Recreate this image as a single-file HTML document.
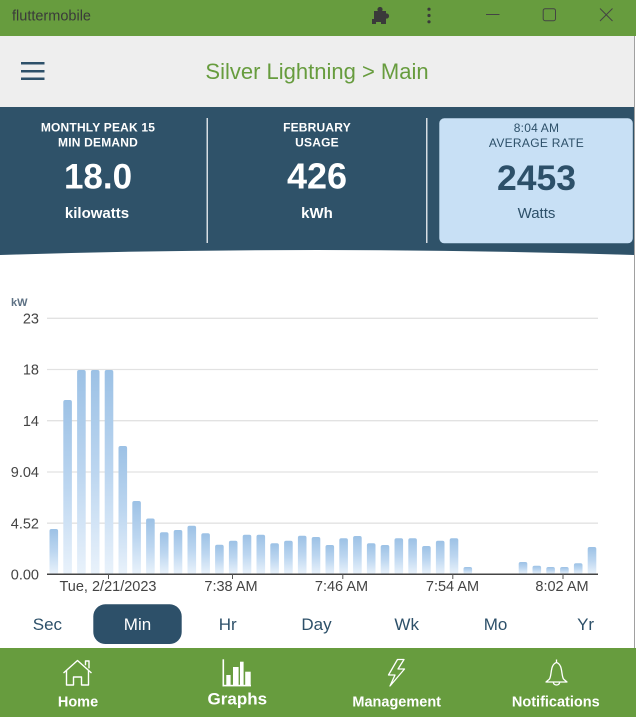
<!DOCTYPE html>
<html>
<head>
<meta charset="utf-8">
<style>
  html, body { margin:0; padding:0; background:#ffffff; }
  body { width:636px; height:717px; overflow:hidden; }
  svg { display:block; }
  text { font-family: "Liberation Sans", "DejaVu Sans", sans-serif; }
</style>
</head>
<body>
<svg width="636" height="717" viewBox="0 0 636 717" xmlns="http://www.w3.org/2000/svg">
  <defs>
    <linearGradient id="bar" x1="0" y1="0" x2="0" y2="1">
      <stop offset="0" stop-color="#9cc1e5"/>
      <stop offset="0.5" stop-color="#bcd6f0"/>
      <stop offset="1" stop-color="#e9f2fb"/>
    </linearGradient>
  </defs>

  <!-- page background -->
  <rect x="0" y="0" width="636" height="717" fill="#ffffff"/>

  <!-- Window title bar -->
  <rect x="0" y="0" width="636" height="36" fill="#679c3e"/>
  <text x="12" y="20.5" font-size="14.5" fill="#3a3a3a">fluttermobile</text>
  <!-- puzzle icon -->
  <g fill="#3a3a3a">
    <rect x="374" y="11" width="12" height="11"/>
    <circle cx="380" cy="9.5" r="2.6"/>
    <circle cx="386.5" cy="16" r="2.6"/>
    <rect x="372" y="19" width="4" height="5"/>
    <rect x="381" y="20" width="5" height="4"/>
  </g>
  <!-- dots -->
  <g fill="#3a3a3a">
    <circle cx="429" cy="9.2" r="1.6"/>
    <circle cx="429" cy="15.5" r="1.6"/>
    <circle cx="429" cy="21.8" r="1.6"/>
  </g>
  <line x1="486" y1="14.5" x2="499.5" y2="14.5" stroke="#444" stroke-width="1"/>
  <rect x="543.2" y="8.7" width="12.3" height="12" rx="2" fill="none" stroke="#444" stroke-width="1"/>
  <line x1="600" y1="8.5" x2="612.5" y2="21" stroke="#444" stroke-width="1"/>
  <line x1="612.5" y1="8.5" x2="600" y2="21" stroke="#444" stroke-width="1"/>

  <!-- App bar -->
  <rect x="0" y="36" width="636" height="71" fill="#eeeeee"/>
  <g fill="#2d5069">
    <rect x="21" y="62" width="23.5" height="2.5"/>
    <rect x="21" y="70" width="23.5" height="2.5"/>
    <rect x="21" y="77.5" width="23.5" height="2.5"/>
  </g>
  <text x="317" y="79" font-size="22" fill="#679c3e" text-anchor="middle">Silver Lightning &gt; Main</text>

  <!-- Dark header with curved bottom -->
  <path d="M0,107 H634 V255 Q317,245 0,255 Z" fill="#2f5269"/>
  <!-- dividers -->
  <rect x="206.5" y="118" width="1.5" height="125" fill="#d6dde3"/>
  <rect x="426" y="118" width="1.5" height="125" fill="#d6dde3"/>
  <!-- highlighted card -->
  <rect x="439.3" y="118.3" width="193.5" height="125" rx="5" fill="#c8e0f5"/>

  <!-- card 1 -->
  <g fill="#ffffff" text-anchor="middle" font-weight="bold">
    <text x="98" y="131.7" font-size="12" letter-spacing="0.2">MONTHLY PEAK 15</text>
    <text x="98" y="146.7" font-size="12" letter-spacing="0.2">MIN DEMAND</text>
    <text x="98" y="188.3" font-size="35">18.0</text>
    <text x="97" y="218" font-size="15">kilowatts</text>
  </g>
  <!-- card 2 -->
  <g fill="#ffffff" text-anchor="middle" font-weight="bold">
    <text x="317" y="131.7" font-size="12" letter-spacing="0.2">FEBRUARY</text>
    <text x="317" y="146.7" font-size="12" letter-spacing="0.2">USAGE</text>
    <text x="317" y="188.3" font-size="36">426</text>
    <text x="317" y="218" font-size="15">kWh</text>
  </g>
  <!-- card 3 -->
  <g fill="#2d5069" text-anchor="middle">
    <text x="536.5" y="132" font-size="12" letter-spacing="0.2">8:04 AM</text>
    <text x="536.5" y="147" font-size="12" letter-spacing="0.3">AVERAGE RATE</text>
    <text x="536.5" y="190" font-size="35.5" font-weight="bold">2453</text>
    <text x="536.5" y="218" font-size="15">Watts</text>
  </g>

  <!-- window right border -->
  <rect x="634" y="36" width="2" height="612" fill="#ffffff"/>
  <rect x="634" y="36" width="1" height="612" fill="#a0a0a0"/>

  <!-- Chart -->
  <text x="11" y="306" font-size="11" font-weight="bold" fill="#5d7184">kW</text>
  <g stroke="#e2e2e2" stroke-width="1.3">
    <line x1="47" y1="318.3" x2="598" y2="318.3"/>
    <line x1="47" y1="369.5" x2="598" y2="369.5"/>
    <line x1="47" y1="420.7" x2="598" y2="420.7"/>
    <line x1="47" y1="472" x2="598" y2="472"/>
    <line x1="47" y1="523.2" x2="598" y2="523.2"/>
  </g>
  <g font-size="14.5" fill="#444" text-anchor="end">
    <text x="39" y="323.5">23</text>
    <text x="39" y="374.7">18</text>
    <text x="39" y="425.9">14</text>
    <text x="39" y="477.2">9.04</text>
    <text x="39" y="528.4">4.52</text>
    <text x="39" y="579.5">0.00</text>
  </g>

  <!-- bars -->
  <g fill="url(#bar)">
    <rect x="49.5" y="529" width="8.6" height="45" rx="2"/>
    <rect x="63.3" y="400" width="8.6" height="174" rx="2"/>
    <rect x="77.1" y="370" width="8.6" height="204" rx="2"/>
    <rect x="90.9" y="370" width="8.6" height="204" rx="2"/>
    <rect x="104.7" y="370" width="8.6" height="204" rx="2"/>
    <rect x="118.5" y="446" width="8.6" height="128" rx="2"/>
    <rect x="132.3" y="501" width="8.6" height="73" rx="2"/>
    <rect x="146.1" y="518.5" width="8.6" height="55.5" rx="2"/>
    <rect x="159.9" y="532.3" width="8.6" height="41.7" rx="2"/>
    <rect x="173.7" y="530" width="8.6" height="44" rx="2"/>
    <rect x="187.5" y="525.7" width="8.6" height="48.3" rx="2"/>
    <rect x="201.3" y="533.3" width="8.6" height="40.7" rx="2"/>
    <rect x="215.1" y="544.7" width="8.6" height="29.3" rx="2"/>
    <rect x="228.9" y="540.7" width="8.6" height="33.3" rx="2"/>
    <rect x="242.7" y="534.7" width="8.6" height="39.3" rx="2"/>
    <rect x="256.5" y="534.7" width="8.6" height="39.3" rx="2"/>
    <rect x="270.3" y="543.3" width="8.6" height="30.7" rx="2"/>
    <rect x="284.1" y="540.7" width="8.6" height="33.3" rx="2"/>
    <rect x="297.9" y="535.7" width="8.6" height="38.3" rx="2"/>
    <rect x="311.7" y="537" width="8.6" height="37" rx="2"/>
    <rect x="325.5" y="545" width="8.6" height="29" rx="2"/>
    <rect x="339.3" y="538.3" width="8.6" height="35.7" rx="2"/>
    <rect x="353.1" y="536" width="8.6" height="38" rx="2"/>
    <rect x="366.9" y="543.3" width="8.6" height="30.7" rx="2"/>
    <rect x="380.7" y="545" width="8.6" height="29" rx="2"/>
    <rect x="394.5" y="538.3" width="8.6" height="35.7" rx="2"/>
    <rect x="408.3" y="538.3" width="8.6" height="35.7" rx="2"/>
    <rect x="422.1" y="546" width="8.6" height="28" rx="2"/>
    <rect x="435.9" y="540.7" width="8.6" height="33.3" rx="2"/>
    <rect x="449.7" y="538.3" width="8.6" height="35.7" rx="2"/>
    <rect x="463.5" y="567" width="8.6" height="7" rx="2"/>
    <rect x="518.7" y="562" width="8.6" height="12" rx="2"/>
    <rect x="532.5" y="565.7" width="8.6" height="8.3" rx="2"/>
    <rect x="546.3" y="567" width="8.6" height="7" rx="2"/>
    <rect x="560.1" y="567" width="8.6" height="7" rx="2"/>
    <rect x="573.9" y="563.3" width="8.6" height="10.7" rx="2"/>
    <rect x="587.7" y="547" width="8.6" height="27" rx="2"/>
  </g>

  <!-- x axis -->
  <line x1="47" y1="574.3" x2="598" y2="574.3" stroke="#444" stroke-width="1.5"/>
  <g stroke="#555" stroke-width="1">
    <line x1="108.5" y1="574" x2="108.5" y2="579"/>
    <line x1="232.5" y1="574" x2="232.5" y2="579"/>
    <line x1="342.8" y1="574" x2="342.8" y2="579"/>
    <line x1="452.8" y1="574" x2="452.8" y2="579"/>
    <line x1="563" y1="574" x2="563" y2="579"/>
  </g>
  <g font-size="14.5" fill="#444" text-anchor="middle">
    <text x="108" y="591">Tue, 2/21/2023</text>
    <text x="231" y="591">7:38 AM</text>
    <text x="341.5" y="591">7:46 AM</text>
    <text x="452.5" y="591">7:54 AM</text>
    <text x="562" y="591">8:02 AM</text>
  </g>

  <!-- Period selector -->
  <rect x="93.3" y="604.3" width="88.4" height="39.7" rx="12" fill="#2d5069"/>
  <g font-size="17" fill="#2d5069" text-anchor="middle">
    <text x="47.4" y="630">Sec</text>
    <text x="137.5" y="630" fill="#ffffff">Min</text>
    <text x="227.7" y="630">Hr</text>
    <text x="316.5" y="630">Day</text>
    <text x="406.7" y="630">Wk</text>
    <text x="495.5" y="630">Mo</text>
    <text x="585.6" y="630">Yr</text>
  </g>

  <!-- Bottom nav -->
  <rect x="0" y="648" width="636" height="69" fill="#679c3e"/>
  <!-- home icon -->
  <g fill="none" stroke="#ffffff" stroke-width="1.4" stroke-linejoin="round">
    <path d="M63.5,673 L77.5,660.5 L91.5,673"/>
    <path d="M85.5,665.3 V661 H89 V668.4"/>
    <path d="M66.5,670.5 V685 H73.5 V677 H81.5 V685 H88.5 V670.5"/>
  </g>
  <!-- graphs icon -->
  <g fill="#ffffff">
    <rect x="222.5" y="659.3" width="1.6" height="27"/>
    <rect x="222.5" y="684.8" width="28.5" height="1.6"/>
    <rect x="226.3" y="675" width="4.3" height="10"/>
    <rect x="233" y="667" width="5.6" height="18"/>
    <rect x="240" y="661.7" width="3.6" height="23.3"/>
    <rect x="245.2" y="671.7" width="5.5" height="13.3"/>
  </g>
  <!-- lightning icon -->
  <path d="M397.5,659.5 L388.5,675 L395,675 L390,686 L404.5,669 L398,669 L404,659.5 Z" fill="none" stroke="#ffffff" stroke-width="1.3" stroke-linejoin="round"/>
  <!-- bell icon -->
  <g fill="none" stroke="#ffffff" stroke-width="1.3" stroke-linejoin="round">
    <path d="M556.5,659.5 V662.5"/>
    <path d="M549.5,679 C552,675 550,664.5 556.5,662.5 C563,664.5 561,675 563.5,679 L567,682 H546 Z"/>
    <path d="M553.3,682.5 A3.3,3.3 0 0 0 559.7,682.5"/>
  </g>
  <g fill="#ffffff" font-weight="bold" text-anchor="middle">
    <text x="78" y="706.7" font-size="14.5">Home</text>
    <text x="237.3" y="704.5" font-size="17">Graphs</text>
    <text x="396.7" y="706.7" font-size="14.5">Management</text>
    <text x="555.8" y="706.7" font-size="14.5">Notifications</text>
  </g>
</svg>
</body>
</html>
